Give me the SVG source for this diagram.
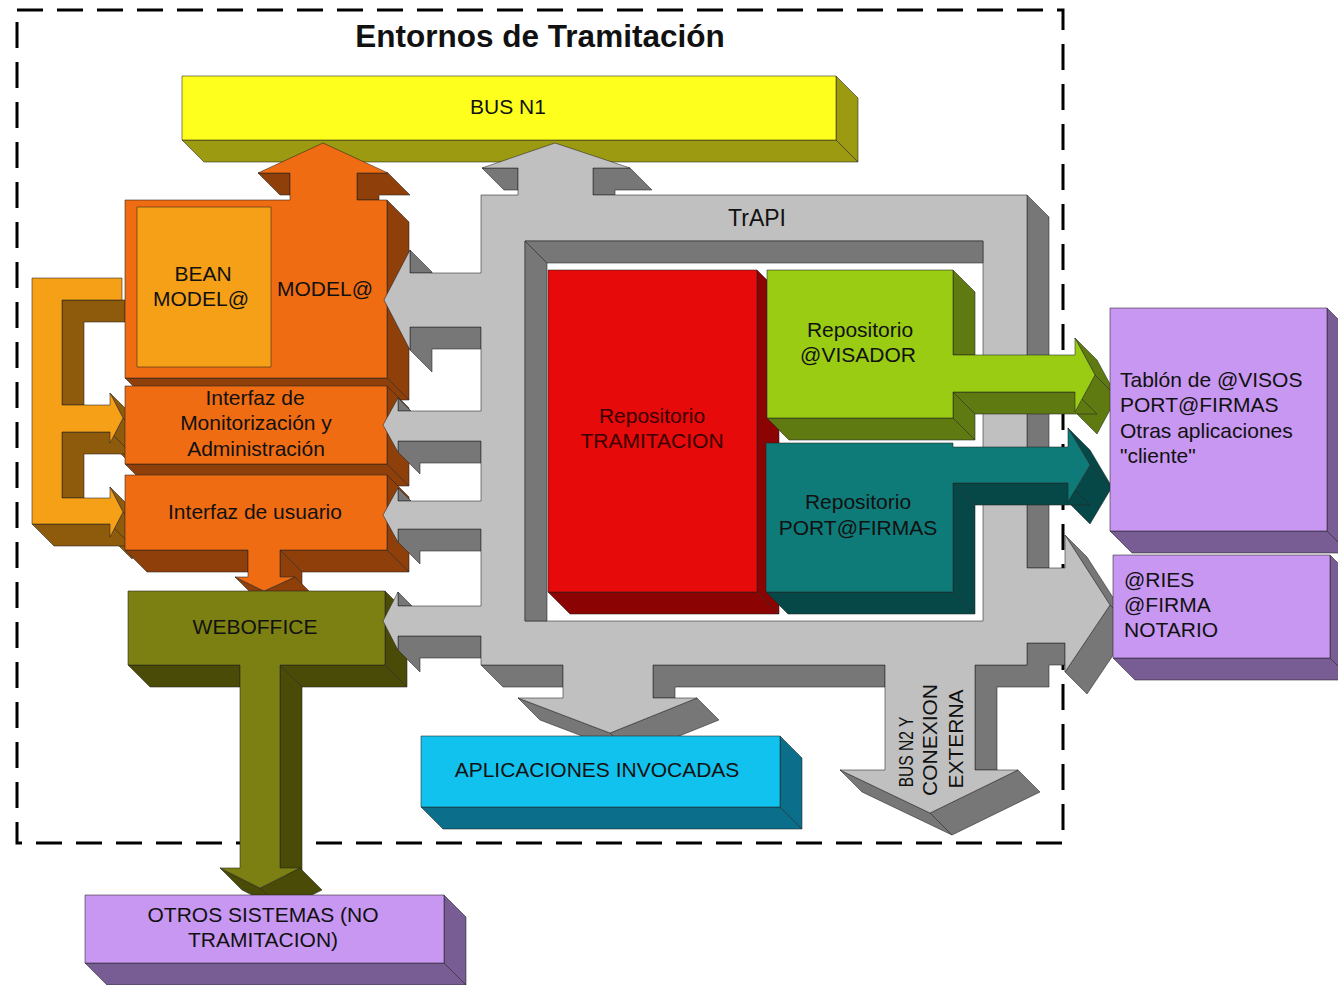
<svg xmlns="http://www.w3.org/2000/svg" width="1338" height="985" viewBox="0 0 1338 985">
<style>
.tx{font-family:"Liberation Sans",Arial,sans-serif;font-size:21px;fill:#111}
.mid{text-anchor:middle}
.e{stroke:#222;stroke-opacity:.55;stroke-width:1;stroke-linejoin:round}
.yF{fill:#FFFF1E}.yD{fill:#9C9A10}
.gF{fill:#C0C0C0}.gD{fill:#777777}
.oF{fill:#EF6C13}.oD{fill:#8E3F0A}
.lF{fill:#F5A017}.lD{fill:#8E5A0C}
.vF{fill:#7C8012}.vD{fill:#4B4B08}
.rF{fill:#E60A0A}.rD{fill:#8B0303}
.nF{fill:#9ACC14}.nD{fill:#5F7A10}
.tF{fill:#0E7B78}.tD{fill:#064848}
.pF{fill:#C897F2}.pD{fill:#785C94}
.cF{fill:#12C2EE}.cD{fill:#0B6F8C}
</style>
<rect x="0" y="0" width="1338" height="985" fill="#ffffff"/>
<rect id="boundary" x="17" y="10" width="1046" height="833" fill="none" stroke="#000" stroke-width="3" stroke-dasharray="26 14"/>
<text class="tx mid" x="540" y="47" style="font-size:31.5px;font-weight:bold">Entornos de Tramitación</text>

<g id="bus-n1">
<polygon class="yD e" points="182,140 836,140 858,162 204,162"/>
<polygon class="yD e" points="836,76 858,98 858,162 836,140"/>
<rect class="yF e" x="182" y="76" width="654" height="64"/>
<text class="tx mid" x="508" y="114">BUS N1</text>
</g>

<g id="bracket">
<polygon class="lD e" points="62,300 125,300 125,322 84,322 84,405 62,405"/>
<polygon class="lD e" points="110,393 132,415 145,440 123,418"/>
<polygon class="lD e" points="123,418 145,440 132,465 110,443"/>
<polygon class="lD e" points="62,432 110,432 132,454 84,454 84,498 62,498"/>
<polygon class="lD e" points="110,487 132,509 145,534 123,512"/>
<polygon class="lD e" points="123,512 145,534 132,559 110,537"/>
<polygon class="lD e" points="32,524 110,524 132,546 54,546"/>
<polygon class="lF e" points="32,278 122,278 122,300 62,300 62,405 110,405 110,393 123,418 110,443 110,432 62,432 62,498 110,498 110,487 123,512 110,537 110,524 32,524"/>
</g>

<g id="model">
<polygon class="oD e" points="258,173 290,173 290,195 280,195"/>
<polygon class="oD e" points="357,173 388,173 410,195 379,195 379,200 357,200"/>
<polygon class="oD e" points="387,200 409,222 409,400 387,378"/>
<polygon class="oD e" points="125,378 387,378 409,400 147,400"/>
<polygon class="oF e" points="125,200 290,200 290,173 258,173 323,143 388,173 357,173 357,200 387,200 387,378 125,378"/>
<rect class="lF e" x="137" y="207" width="134" height="160"/>
<text class="tx mid" x="203" y="281">BEAN</text>
<text class="tx mid" x="201" y="306">MODEL@</text>
<text class="tx mid" x="325" y="296">MODEL@</text>
</g>

<g id="monitorizacion">
<polygon class="oD e" points="387,386 409,408 409,486 387,464"/>
<polygon class="oD e" points="125,464 387,464 409,486 147,486"/>
<rect class="oF e" x="125" y="386" width="262" height="78"/>
<text class="tx mid" x="255" y="405">Interfaz de</text>
<text class="tx mid" x="256" y="430">Monitorización y</text>
<text class="tx mid" x="256" y="456">Administración</text>
</g>

<g id="usuario">
<polygon class="oD e" points="387,475 409,497 409,572 387,550"/>
<polygon class="oD e" points="125,550 248,550 248,572 147,572"/>
<polygon class="oD e" points="280,550 387,550 409,572 302,572"/>
<polygon class="oD e" points="280,550 302,572 302,599 280,577"/>
<polygon class="oD e" points="235,577 257,599 286,613 264,591"/>
<polygon class="oD e" points="264,591 286,613 317,599 295,577"/>
<polygon class="oF e" points="125,475 387,475 387,550 280,550 280,577 295,577 264,591 235,577 248,577 248,550 125,550"/>
<text class="tx mid" x="255" y="519">Interfaz de usuario</text>
</g>

<g id="weboffice">
<polygon class="vD e" points="385,591 407,613 407,687 385,665"/>
<polygon class="vD e" points="128,665 240,665 240,687 150,687"/>
<polygon class="vD e" points="280,665 385,665 407,687 302,687"/>
<polygon class="vD e" points="280,665 302,687 302,890 280,868"/>
<polygon class="vD e" points="220,868 242,890 282,910 260,888"/>
<polygon class="vD e" points="260,888 282,910 322,890 300,868"/>
<polygon class="vF e" points="128,591 385,591 385,665 280,665 280,868 300,868 260,888 220,868 240,868 240,665 128,665"/>
<text class="tx mid" x="255" y="634">WEBOFFICE</text>
</g>

<g id="trapi">
<g class="gD e">
<polygon points="482,168 518,168 518,190 504,190"/>
<polygon points="593,168 630,168 652,190 615,190 615,195 593,195"/>
<polygon points="1027,195 1049,217 1049,568 1027,568"/>
<polygon points="481,665 563,665 563,687 503,687"/>
<polygon points="653,665 885,665 885,687 675,687 675,698 653,698"/>
<polygon points="975,665 1027,665 1027,643 1065,643 1065,665 1049,665 1049,687 997,687 997,770 975,770"/>
<polygon points="840,770 862,792 952,835 930,813"/>
<polygon points="930,813 952,835 1040,792 1018,770"/>
<polygon points="518,698 540,720 632,755 610,733"/>
<polygon points="610,733 632,755 719,720 697,698"/>
<polygon points="1065,535 1087,557 1132,627 1110,605"/>
<polygon points="1110,605 1132,627 1087,694 1065,672"/>
<polygon points="410,250 432,272 432,273 410,273"/>
<polygon points="410,327 481,327 481,349 432,349 432,372 410,350"/>
<polygon points="398,398 411,411 398,411"/>
<polygon points="398,441 481,441 481,463 420,463 420,474 398,452"/>
<polygon points="398,488 411,501 398,501"/>
<polygon points="398,529 481,529 481,551 420,551 420,564 398,542"/>
<polygon points="398,592 412,606 398,606"/>
<polygon points="398,636 481,636 481,658 420,658 420,672 398,650"/>
</g>
<path class="gF e" fill-rule="evenodd" d="M481,195 L518,195 L518,168 L482,168 L555,143 L630,168 L593,168 L593,195 L1027,195 L1027,568 L1065,568 L1065,535 L1110,605 L1065,672 L1065,643 L1027,643 L1027,665 L975,665 L975,770 L1018,770 L930,813 L840,770 L885,770 L885,665 L653,665 L653,698 L697,698 L610,733 L518,698 L563,698 L563,665 L481,665 L481,636 L398,636 L398,650 L383,621 L398,592 L398,606 L481,606 L481,529 L398,529 L398,542 L383,515 L398,488 L398,501 L481,501 L481,441 L398,441 L398,452 L383,425 L398,398 L398,411 L481,411 L481,327 L410,327 L410,350 L384,300 L410,250 L410,273 L481,273 Z M525,241 L525,621 L983,621 L983,241 Z"/>
<polygon class="gD e" points="525,241 983,241 983,263 547,263"/>
<polygon class="gD e" points="525,241 547,263 547,621 525,621"/>
<text class="tx mid" x="757" y="226" style="font-size:23px">TrAPI</text>
<text class="tx mid" transform="translate(913,752) rotate(-90) scale(0.74,1)">BUS N2 Y</text>
<text class="tx mid" transform="translate(937,740) rotate(-90)">CONEXION</text>
<text class="tx mid" transform="translate(963,739) rotate(-90)">EXTERNA</text>
</g>

<g id="repo-tramitacion">
<polygon class="rD e" points="757,270 779,292 779,614 757,592"/>
<polygon class="rD e" points="548,592 757,592 779,614 570,614"/>
<rect class="rF e" x="548" y="270" width="209" height="322"/>
<text class="tx mid" x="652" y="423" style="fill:#3a0000">Repositorio</text>
<text class="tx mid" x="652" y="448" style="fill:#3a0000">TRAMITACION</text>
</g>

<g id="repo-visador">
<g class="nD e">
<polygon points="953,270 975,292 975,355 953,355"/>
<polygon points="1075,338 1097,360 1117,397 1095,375"/>
<polygon points="1095,375 1117,397 1097,434 1075,412"/>
<polygon points="953,392 1075,392 1097,414 975,414"/>
<polygon points="953,392 975,414 975,440 953,418"/>
<polygon points="767,418 953,418 975,440 789,440"/>
</g>
<polygon class="nF e" points="767,270 953,270 953,355 1075,355 1075,338 1095,375 1075,412 1075,392 953,392 953,418 767,418"/>
<text class="tx mid" x="860" y="337">Repositorio</text>
<text class="tx mid" x="858" y="362">@VISADOR</text>
</g>

<g id="repo-portafirmas">
<g class="tD e">
<polygon points="1068,428 1090,450 1112,487 1090,465"/>
<polygon points="1090,465 1112,487 1090,524 1068,502"/>
<polygon points="953,483 1068,483 1090,505 975,505"/>
<polygon points="953,483 975,505 975,614 953,592"/>
<polygon points="766,592 953,592 975,614 788,614"/>
</g>
<polygon class="tF e" points="766,443 953,443 953,447 1068,447 1068,428 1090,465 1068,502 1068,483 953,483 953,592 766,592"/>
<text class="tx mid" x="858" y="509">Repositorio</text>
<text class="tx mid" x="858" y="535">PORT@FIRMAS</text>
</g>

<g id="tablon">
<polygon class="pD e" points="1327,308 1349,330 1349,553 1327,531"/>
<polygon class="pD e" points="1110,531 1327,531 1349,553 1132,553"/>
<rect class="pF e" x="1110" y="308" width="217" height="223"/>
<text class="tx" x="1120" y="387">Tablón de @VISOS</text>
<text class="tx" x="1120" y="412">PORT@FIRMAS</text>
<text class="tx" x="1120" y="438">Otras aplicaciones</text>
<text class="tx" x="1120" y="463">"cliente"</text>
</g>

<g id="ries">
<polygon class="pD e" points="1330,555 1352,577 1352,680 1330,658"/>
<polygon class="pD e" points="1113,658 1330,658 1352,680 1135,680"/>
<rect class="pF e" x="1113" y="555" width="217" height="103"/>
<text class="tx" x="1124" y="587">@RIES</text>
<text class="tx" x="1124" y="612">@FIRMA</text>
<text class="tx" x="1124" y="637">NOTARIO</text>
</g>

<g id="aplicaciones">
<polygon class="cD e" points="780,736 802,758 802,829 780,807"/>
<polygon class="cD e" points="421,807 780,807 802,829 443,829"/>
<rect class="cF e" x="421" y="736" width="359" height="71"/>
<text class="tx mid" x="597" y="777">APLICACIONES INVOCADAS</text>
</g>

<g id="otros">
<polygon class="pD e" points="444,895 466,917 466,985 444,963"/>
<polygon class="pD e" points="85,963 444,963 466,985 107,985"/>
<rect class="pF e" x="85" y="895" width="359" height="68"/>
<text class="tx mid" x="263" y="922">OTROS SISTEMAS (NO</text>
<text class="tx mid" x="263" y="947">TRAMITACION)</text>
</g>
</svg>
